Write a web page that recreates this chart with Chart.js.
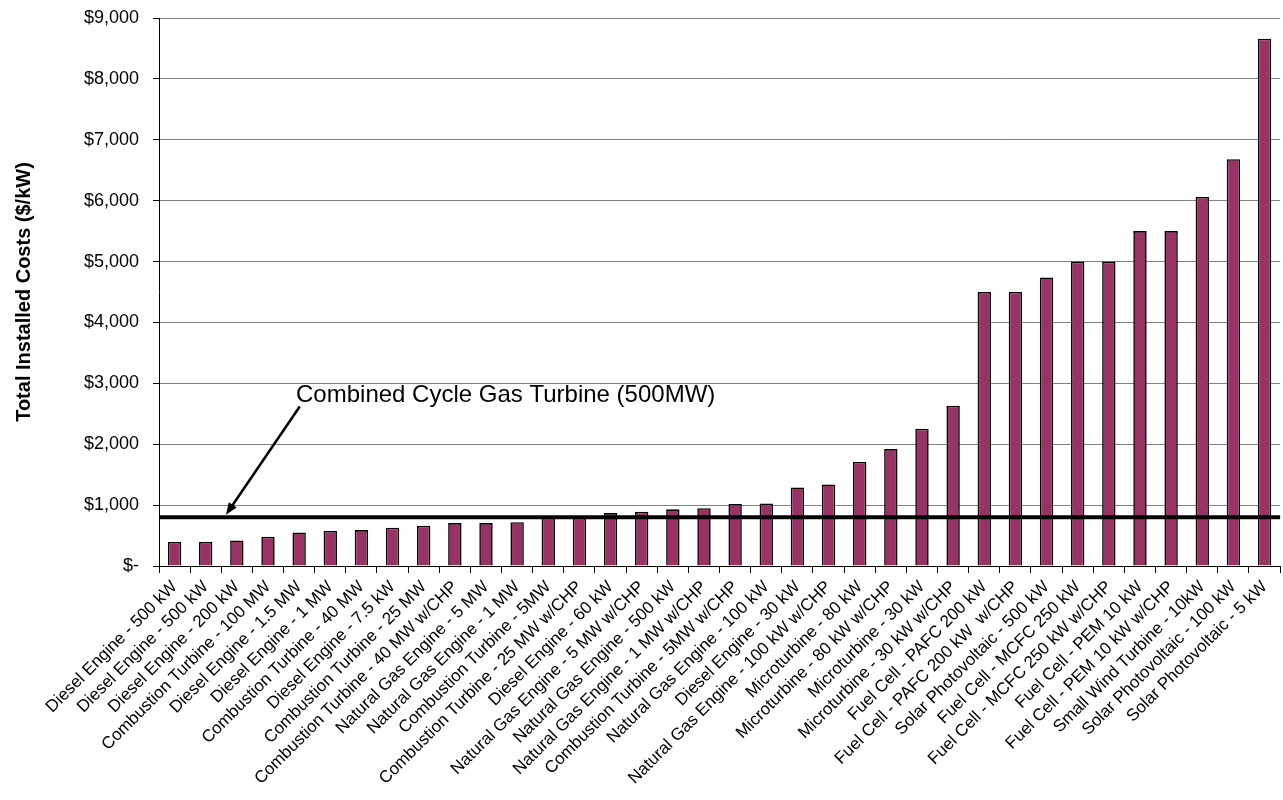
<!DOCTYPE html>
<html>
<head>
<meta charset="utf-8">
<title>Total Installed Costs</title>
<script src="https://cdn.jsdelivr.net/npm/chart.js@4/dist/chart.umd.min.js"></script>
<style>
  html, body { margin: 0; padding: 0; background: #fff; }
  #wrap { width: 1283px; height: 800px; }
</style>
</head>
<body>
<div id="wrap"><canvas id="costChart" width="1283" height="800"></canvas></div>
<script>
// Technologies, sorted by installed cost
var technologies = [
  "Diesel Engine - 500 kW", "Diesel Engine - 500 kW", "Diesel Engine - 200 kW",
  "Combustion Turbine - 100 MW", "Diesel Engine - 1.5 MW", "Diesel Engine - 1 MW",
  "Combustion Turbine - 40 MW", "Diesel Engine - 7.5 kW", "Combustion Turbine - 25 MW",
  "Combustion Turbine - 40 MW w/CHP", "Natural Gas Engine - 5 MW", "Natural Gas Engine - 1 MW",
  "Combustion Turbine - 5MW", "Combustion Turbine - 25 MW w/CHP", "Diesel Engine - 60 kW",
  "Natural Gas Engine - 5 MW w/CHP", "Natural Gas Engine - 500 kW", "Natural Gas Engine - 1 MW w/CHP",
  "Combustion Turbine - 5MW w/CHP", "Natural Gas Engine - 100 kW", "Diesel Engine - 30 kW",
  "Natural Gas Engine - 100 kW w/CHP", "Microturbine - 80 kW", "Microturbine - 80 kW w/CHP",
  "Microturbine - 30 kW", "Microturbine - 30 kW w/CHP", "Fuel Cell - PAFC 200 kW",
  "Fuel Cell - PAFC 200 kW  w/CHP", "Solar Photovoltaic - 500 kW", "Fuel Cell - MCFC 250 kW",
  "Fuel Cell - MCFC 250 kW w/CHP", "Fuel Cell - PEM 10 kW", "Fuel Cell - PEM 10 kW w/CHP",
  "Small Wind Turbine - 10kW", "Solar Photovoltaic - 100 kW", "Solar Photovoltaic - 5 kW"
];

// $/kW
var installedCosts = [
  395, 395, 420, 480, 550, 575, 590, 630, 660,
  705, 705, 720, 790, 790, 870, 890, 930, 950,
  1020, 1025, 1290, 1340, 1710, 1920, 2255, 2630, 4500,
  4500, 4740, 5000, 5000, 5500, 5500, 6060, 6680, 8660
];

var costTicks = [0, 1000, 2000, 3000, 4000, 5000, 6000, 7000, 8000, 9000];

// reference line: combined cycle gas turbine
var ccgtCost = 800;
var ccgtLabel = "Combined Cycle Gas Turbine (500MW)";

var FONT = "Arial, 'Liberation Sans', sans-serif";

function money(v) {
  if (v === 0) return "$-";
  return "$" + v.toLocaleString("en-US");
}

// horizontal CCGT line + callout arrow, placed in data units
var ccgtPlugin = {
  id: "ccgt",
  afterDatasetsDraw: function (chart) {
    var ctx = chart.ctx;
    var x = chart.scales.x;
    var y = chart.scales.y;
    var area = chart.chartArea;
    var ly = y.getPixelForValue(ccgtCost);

    ctx.save();
    ctx.strokeStyle = "#000";
    ctx.lineWidth = 4;
    ctx.beginPath();
    ctx.moveTo(area.left, ly);
    ctx.lineTo(area.right, ly);
    ctx.stroke();

    // arrow from the label down to the line
    var x1 = x.getPixelForValue(4.02), y1 = y.getPixelForValue(2620);
    var x2 = x.getPixelForValue(1.65), y2 = y.getPixelForValue(840);
    var ang = Math.atan2(y2 - y1, x2 - x1);
    var head = 13;
    ctx.lineWidth = 2.5;
    ctx.beginPath();
    ctx.moveTo(x1, y1);
    ctx.lineTo(x2 - Math.cos(ang) * head * 0.8, y2 - Math.sin(ang) * head * 0.8);
    ctx.stroke();
    ctx.fillStyle = "#000";
    ctx.beginPath();
    ctx.moveTo(x2, y2);
    ctx.lineTo(x2 - head * Math.cos(ang - 0.38), y2 - head * Math.sin(ang - 0.38));
    ctx.lineTo(x2 - head * Math.cos(ang + 0.38), y2 - head * Math.sin(ang + 0.38));
    ctx.closePath();
    ctx.fill();

    ctx.font = "24px " + FONT;
    ctx.textAlign = "left";
    ctx.textBaseline = "alphabetic";
    ctx.fillText(ccgtLabel, x.getPixelForValue(3.9), y.getPixelForValue(2690));
    ctx.restore();
  }
};

var ctx = document.getElementById("costChart").getContext("2d");
var costChart = new Chart(ctx, {
  type: "bar",
  data: {
    labels: technologies,
    datasets: [
      {
        label: "Total Installed Costs",
        data: installedCosts,
        backgroundColor: "#993366",
        borderColor: "#000",
        borderWidth: 1.6,
        barPercentage: 0.43,
        categoryPercentage: 1.0,
      },
    ],
  },
  options: {
    responsive: false,
    animation: false,
    layout: {
      padding: { top: 18, right: 2, left: 0, bottom: 0 },
    },
    plugins: {
      legend: { display: false },
      tooltip: { enabled: false },
    },
    scales: {
      x: {
        grid: {
          offset: true,
          drawOnChartArea: false,
          drawTicks: true,
          tickLength: 7,
          color: "#000",
        },
        border: { color: "#000", width: 1 },
        ticks: {
          autoSkip: false,
          maxRotation: 45,
          minRotation: 45,
          padding: 4,
          color: "#000",
          font: { family: FONT, size: 17 },
        },
        afterFit: function (scale) {
          scale.height = 234;
        },
      },
      y: {
        min: 0,
        max: 9000,
        afterBuildTicks: function (scale) {
          scale.ticks = costTicks.map(function (v) { return { value: v }; });
        },
        grid: {
          color: "#808080",
          tickLength: 6,
          tickColor: "#000",
        },
        border: { color: "#000", width: 1 },
        ticks: {
          padding: 14,
          color: "#000",
          font: { family: FONT, size: 18 },
          callback: function (v) { return money(v); },
        },
        title: {
          display: true,
          text: "Total Installed Costs ($/kW)",
          color: "#000",
          font: { family: FONT, size: 20, weight: "bold" },
          padding: { top: 12, bottom: 0 },
        },
        afterFit: function (scale) {
          scale.width = 159;
          // the top label may poke above the plot, layout padding covers it
          scale.paddingTop = 0;
        },
      },
    },
  },
  plugins: [ccgtPlugin],
});
</script>
</body>
</html>
